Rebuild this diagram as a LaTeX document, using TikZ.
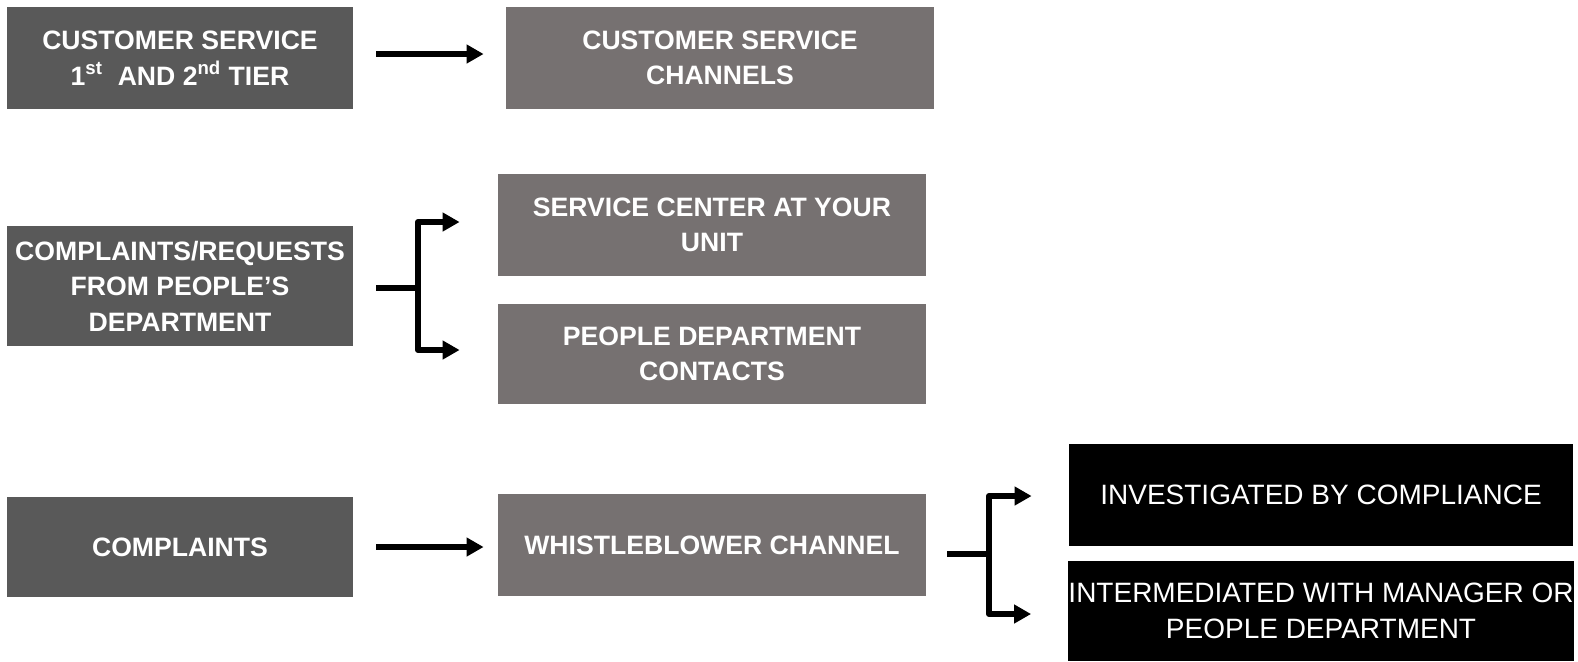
\documentclass[tikz,border=0pt]{standalone}
\usepackage{fontspec}
\setmainfont{Liberation Sans}
\usepackage{tikz}
\usetikzlibrary{arrows.meta,calc}
\definecolor{leftgray}{HTML}{595959}
\definecolor{midgray}{HTML}{767171}
\tikzset{
  srcbox/.style={fill=leftgray, text=white, inner sep=0pt, minimum width=173pt, align=center, font=\bfseries\fontsize{13.3}{17.8}\selectfont},
  chanbox/.style={fill=midgray, text=white, inner sep=0pt, minimum width=214pt, minimum height=51pt, align=center, font=\bfseries\fontsize{13.3}{17.8}\selectfont},
  outbox/.style={fill=black, text=white, inner sep=0pt, minimum width=252pt, minimum height=51pt, align=center, font=\fontsize{14}{18}\selectfont},
  flow/.style={line width=3pt, line join=round, -{Triangle[length=8.5pt,width=9pt]}},
  stub/.style={line width=3pt, line join=round}
}

\begin{document}
\begin{tikzpicture}[x=0.5pt,y=-0.5pt]
    \useasboundingbox (0,0) rectangle (1578,661);

    \node[srcbox, minimum height=51pt] (tier) at (180,58) {CUSTOMER SERVICE\\1\textsuperscript{st}\ \ AND 2\textsuperscript{nd} TIER};
    \node[chanbox] (cschan) at (720,58) {CUSTOMER SERVICE\\CHANNELS};

    \node[srcbox, minimum height=60pt] (requests) at (180,286) {COMPLAINTS/REQUESTS\\FROM PEOPLE'S\\DEPARTMENT};
    \node[chanbox] (service) at (712,225) {SERVICE CENTER AT YOUR\\UNIT};
    \node[chanbox, minimum height=50pt] (contacts) at (712,354) {PEOPLE DEPARTMENT\\CONTACTS};

    \node[srcbox, minimum height=50pt] (complaints) at (180,547) {COMPLAINTS};
    \node[chanbox] (whistle) at (712,545) {WHISTLEBLOWER CHANNEL};
    \node[outbox] (compliance) at (1321,495) {INVESTIGATED BY COMPLIANCE};
    \node[outbox, minimum height=50pt] (manager) at (1321,611) {INTERMEDIATED WITH MANAGER OR\\PEOPLE DEPARTMENT};

    \draw[flow, shorten <=11.5pt, shorten >=11pt] ([yshift=2pt]tier.east) -- ([yshift=2pt]tier.east -| cschan.west);
    \draw[flow, shorten <=11.5pt, shorten >=7pt] (complaints.east) -- (complaints.east -| whistle.west);

    \coordinate (fork2) at (418,288);
    \draw[stub, shorten <=11.5pt] (requests.east |- fork2) -- (fork2);
    \draw[flow, shorten >=19pt] (fork2) |- ([yshift=1.5pt]service.west);
    \draw[flow, shorten >=19pt] (fork2) |- ([yshift=2pt]contacts.west);

    \coordinate (fork3) at (989,554);
    \draw[stub, shorten <=10.5pt] (whistle.east |- fork3) -- (fork3);
    \draw[flow, shorten >=18.5pt] (fork3) |- ([yshift=-0.5pt]compliance.west);
    \draw[flow, shorten >=18.5pt] (fork3) |- ([yshift=-1.5pt]manager.west);
\end{tikzpicture}
\end{document}
